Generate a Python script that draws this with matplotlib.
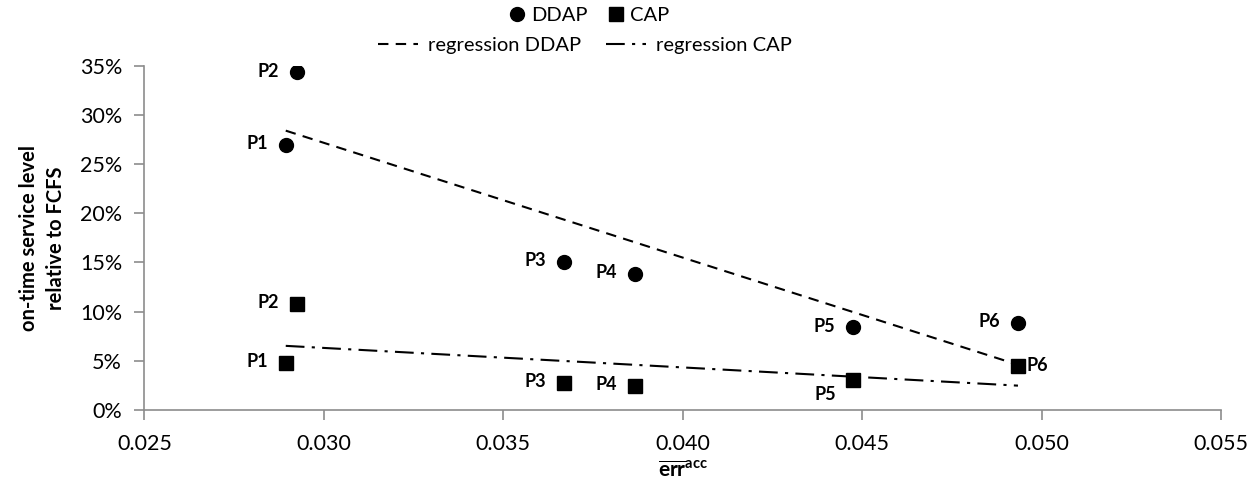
import numpy as np
import matplotlib
matplotlib.use("Agg")
import matplotlib.pyplot as plt
from matplotlib.lines import Line2D
from matplotlib.ticker import FuncFormatter

plt.rcParams['font.family'] = ['Lato', 'DejaVu Sans']
plt.rcParams['mathtext.fontset'] = 'custom'
plt.rcParams['mathtext.rm'] = 'Lato'
plt.rcParams['mathtext.bf'] = 'Lato:bold'

# mean accuracy error of each policy
points = ['P1', 'P2', 'P3', 'P4', 'P5', 'P6']
err_acc = [0.02894, 0.02925, 0.03670, 0.03867, 0.04474, 0.04934]
# on-time service level relative to FCFS (%)
ddap = [26.9, 34.3, 15.1, 13.8, 8.4, 8.9]
cap = [4.8, 10.8, 2.8, 2.5, 3.1, 4.5]

grey = '#8c8c8c'

fig = plt.figure(figsize=(12.55, 4.93), dpi=100)
ax = fig.add_axes([0.115, 0.168, 0.858, 0.699])

ax.plot(err_acc, ddap, 'o', color='black', markersize=10, zorder=3)
ax.plot(err_acc, cap, 's', color='black', markersize=10, zorder=3)

# linear trendlines over the data range
x = np.array(err_acc)
xs = np.array([x.min(), x.max()])
k1, b1 = np.polyfit(x, ddap, 1)
k2, b2 = np.polyfit(x, cap, 1)
ax.plot(xs, k1 * xs + b1, color='black', lw=1.5, dashes=(5, 3.5))
ax.plot(xs, k2 * xs + b2, color='black', lw=1.5, dashes=(9, 3.5, 1.5, 3.5))

lab = dict(fontsize=13, fontweight='bold', va='center')
for name, xv, yv in zip(points, err_acc, ddap):
    ax.annotate(name, (xv, yv), xytext=(-13, 1), textcoords='offset points', ha='right', **lab)
for name, xv, yv in zip(points, err_acc, cap):
    if name == 'P5':
        ax.annotate(name, (xv, yv), xytext=(-12, -11), textcoords='offset points', ha='right', **lab)
    elif name == 'P6':
        ax.annotate(name, (xv, yv), xytext=(6, 0), textcoords='offset points', ha='left', **lab)
    else:
        ax.annotate(name, (xv, yv), xytext=(-13, 1), textcoords='offset points', ha='right', **lab)

ax.set_xlim(0.025, 0.055)
ax.set_ylim(0, 35)
ax.set_xticks(np.arange(0.025, 0.0551, 0.005))
ax.set_yticks(np.arange(0, 36, 5))
ax.xaxis.set_major_formatter(FuncFormatter(lambda v, p: f'{v:.3f}'))
ax.yaxis.set_major_formatter(FuncFormatter(lambda v, p: f'{v:.0f}%'))
ax.tick_params(labelsize=15.5, color=grey, length=7, width=1.2)
ax.tick_params(axis='x', pad=10)
ax.tick_params(axis='y', pad=9)
for s in ['top', 'right']:
    ax.spines[s].set_visible(False)
for s in ['left', 'bottom']:
    ax.spines[s].set_color(grey)
    ax.spines[s].set_linewidth(1.2)

ax.set_ylabel('on-time service level\nrelative to FCFS', fontsize=14.5, fontweight='bold',
              labelpad=10, linespacing=1.45)
ax.set_xlabel(r'$\mathbf{\overline{err}}^{\mathbf{acc}}$', fontsize=15, labelpad=4)

marker_handles = [
    Line2D([], [], ls='none', marker='o', color='black', markersize=10, label='DDAP'),
    Line2D([], [], ls='none', marker='s', color='black', markersize=10, label='CAP'),
]
line_handles = [
    Line2D([], [], color='black', lw=1.5, dashes=(5, 3.5), label='regression DDAP'),
    Line2D([], [], color='black', lw=1.5, dashes=(9, 3.5, 1.5, 3.5), label='regression CAP'),
]
fig.legend(handles=marker_handles, loc='center', bbox_to_anchor=(0.468, 0.968), ncol=2,
           frameon=False, fontsize=14.5, handletextpad=0.1, columnspacing=0.8, handlelength=1.2)
fig.legend(handles=line_handles, loc='center', bbox_to_anchor=(0.466, 0.908), ncol=2,
           frameon=False, fontsize=14.5, handletextpad=0.5, columnspacing=1.2, handlelength=2.0)

fig.savefig('out.png', dpi=100)
